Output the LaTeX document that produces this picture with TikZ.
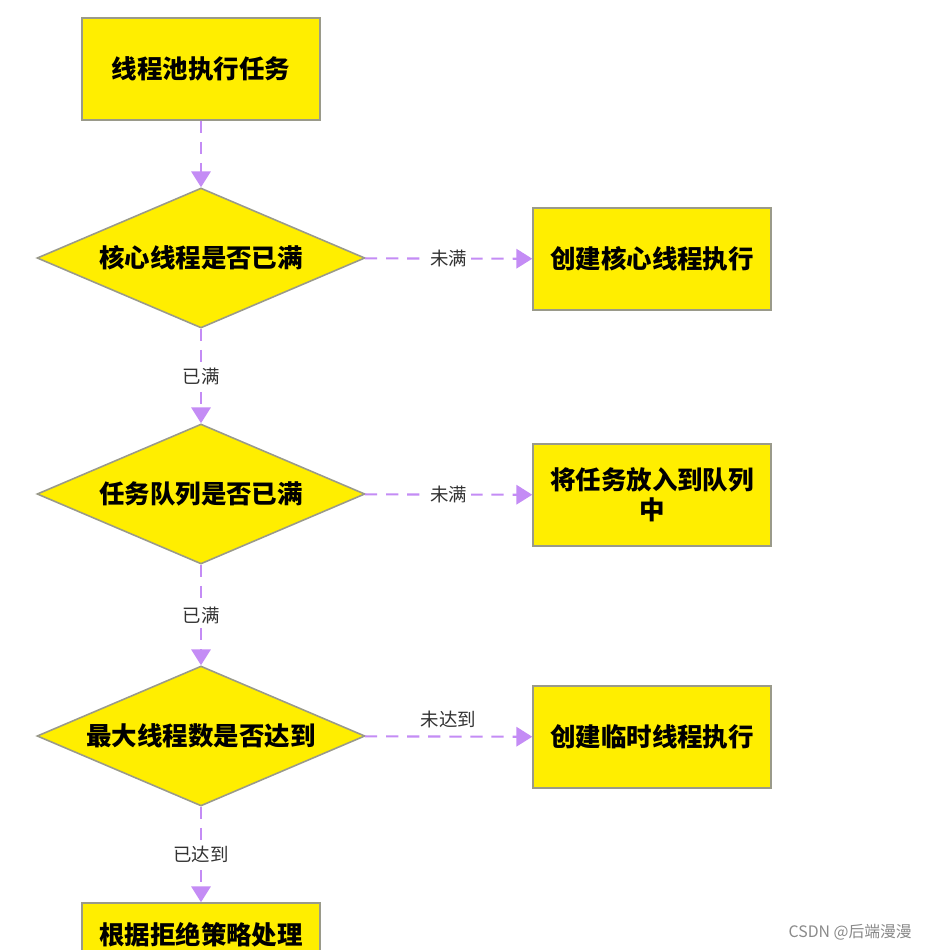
\documentclass[tikz,border=0pt]{standalone}
\usepackage{fontspec}
\setmainfont{Noto Sans CJK SC}
\usepackage{tikz}
\usetikzlibrary{shapes.geometric,arrows.meta}
\definecolor{boxfill}{HTML}{FFEE00}
\definecolor{boxline}{HTML}{9A9A8A}
\definecolor{flow}{HTML}{C48CF5}
\definecolor{labtext}{HTML}{333333}
\definecolor{mark}{HTML}{8A8A8A}
\tikzset{
  stepbox/.style={draw=boxline, fill=boxfill, line width=0.9pt, minimum width=4.76cm, minimum height=2.04cm, font=\bfseries\fontsize{14.5}{17}\selectfont, align=center, text width=4.4cm},
  choice/.style={diamond, draw=boxline, fill=boxfill, line width=0.9pt, minimum width=6.56cm, minimum height=2.8cm, inner sep=0pt, aspect=2.34, font=\bfseries\fontsize{14.5}{17}\selectfont},
  flowline/.style={draw=flow, line width=1.2pt, dash pattern=on 7pt off 5pt, -{Triangle[length=9pt,width=11pt]}},
  lab/.style={text=labtext, font=\fontsize{10.5}{12}\selectfont, fill=white, inner sep=2pt}
}
\begin{document}
\begin{tikzpicture}[x=0.02cm, y=-0.02cm]
  \useasboundingbox (0,0) rectangle (932,950);
  \clip (0,0) rectangle (932,950);
  \fill[white] (0,0) rectangle (932,950);

  \node[stepbox] (start) at (201,69) {线程池执行任务};
  \node[choice] (core) at (201,258) {核心线程是否已满};
  \node[stepbox] (newcore) at (652,259) {创建核心线程执行};
  \node[choice] (queue) at (201,494) {任务队列是否已满};
  \node[stepbox] (enqueue) at (652,495) {将任务放入到队列\\中};
  \node[choice] (max) at (201,736) {最大线程数是否达到};
  \node[stepbox] (newtemp) at (652,737) {创建临时线程执行};
  \node[stepbox, minimum height=1.28cm] (reject) at (201,935) {根据拒绝策略处理};

  \draw[flowline] (start) -- (core);
  \draw[flowline] (core) -- (newcore) node[lab, pos=0.5] {未满};
  \draw[flowline] (core) -- (queue) node[lab, pos=0.5] {已满};
  \draw[flowline] (queue) -- (enqueue) node[lab, pos=0.5] {未满};
  \draw[flowline] (queue) -- (max) node[lab, pos=0.5] {已满};
  \draw[flowline] (max) -- (newtemp) node[lab, pos=0.5, above=2pt] {未达到};
  \draw[flowline] (max) -- (reject) node[lab, pos=0.5] {已达到};

  \node[text=mark, font=\fontsize{9}{11}\selectfont, anchor=east] (wm) at (918,932) {CSDN @后端漫漫};
\end{tikzpicture}
\end{document}
